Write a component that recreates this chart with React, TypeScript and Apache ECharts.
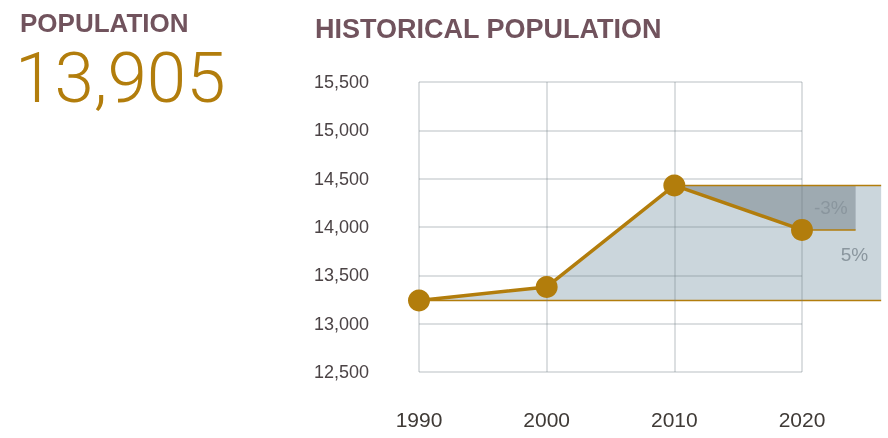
import React, { useEffect, useRef } from "react";
import * as echarts from "echarts";

const YEARS = [1990, 2000, 2010, 2020];
const POPULATION = [13240, 13380, 14430, 13970];
const Y_MIN = 12500;
const Y_MAX = 15500;
const Y_STEP = 500;
const HEADLINE_LABEL = "POPULATION";
const HEADLINE_VALUE = "13,905";
const CHART_TITLE = "HISTORICAL POPULATION";
const CHANGE_LABELS = ["-3%", "5%"];
// extent of the comparison bands beyond the last year (in years)
const BAND_END_YEAR = 2026.2;
const CHANGE_END_YEAR = 2024.2;

const GOLD = "#b27d0c";
const MAUVE = "#71535d";
const LIGHT_BAND = "#cbd6dc";
const DARK_BAND = "#9eaab1";
const BAND_TEXT = "#8a969e";

export default function App() {
  const ref = useRef<HTMLDivElement | null>(null);

  useEffect(() => {
    if (!ref.current) return;
    const chart = echarts.init(ref.current, undefined, { renderer: "svg" });

    const lineData = YEARS.map((y, i) => [y, POPULATION[i]]);

    const renderBands = (params: any, api: any) => {
      const p = YEARS.map((y, i) => api.coord([y, POPULATION[i]]));
      const bandEnd = api.coord([BAND_END_YEAR, POPULATION[0]])[0];
      const changeEnd = api.coord([CHANGE_END_YEAR, POPULATION[0]])[0];
      const [p0, p1, p2, p3] = p;
      const thin = { stroke: GOLD, lineWidth: 1.5 };
      return {
        type: "group",
        children: [
          {
            type: "polygon",
            shape: {
              points: [p0, p1, p2, [bandEnd, p2[1]], [bandEnd, p0[1]]],
            },
            style: { fill: LIGHT_BAND },
          },
          {
            type: "polygon",
            shape: {
              points: [p2, [changeEnd, p2[1]], [changeEnd, p3[1]], p3],
            },
            style: { fill: DARK_BAND },
          },
          {
            type: "line",
            shape: { x1: p0[0], y1: p0[1], x2: bandEnd, y2: p0[1] },
            style: thin,
          },
          {
            type: "line",
            shape: { x1: p2[0], y1: p2[1], x2: bandEnd, y2: p2[1] },
            style: thin,
          },
          {
            type: "line",
            shape: { x1: p3[0], y1: p3[1], x2: changeEnd, y2: p3[1] },
            style: thin,
          },
          {
            type: "text",
            x: (p3[0] + changeEnd) / 2 + 2,
            y: (p2[1] + p3[1]) / 2,
            style: {
              text: CHANGE_LABELS[0],
              fill: BAND_TEXT,
              font: '19px "Liberation Sans", Arial, sans-serif',
              align: "center",
              verticalAlign: "middle",
            },
          },
          {
            type: "text",
            x: bandEnd - 13,
            y: p3[1] + 25,
            style: {
              text: CHANGE_LABELS[1],
              fill: BAND_TEXT,
              font: '19px "Liberation Sans", Arial, sans-serif',
              align: "right",
              verticalAlign: "middle",
            },
          },
        ],
      };
    };

    const splitLine = {
      show: true,
      lineStyle: { color: "rgba(110,120,128,0.24)", width: 2 },
    };

    chart.setOption({
      animation: false,
      grid: { left: 419, right: 86, top: 82, bottom: 66, containLabel: false },
      graphic: [
        {
          type: "text",
          left: 20,
          top: 10,
          style: {
            text: HEADLINE_LABEL,
            fill: MAUVE,
            font: 'bold 26px "Liberation Sans", Arial, sans-serif',
            lineHeight: 26,
          },
        },
        {
          type: "text",
          left: 15,
          top: 42,
          style: {
            text: HEADLINE_VALUE,
            fill: GOLD,
            font: '300 71px Roboto, "Liberation Sans", sans-serif',
            lineHeight: 58,
          },
        },
        {
          type: "text",
          left: 315,
          top: 15,
          style: {
            text: CHART_TITLE,
            fill: MAUVE,
            font: 'bold 27px "Liberation Sans", Arial, sans-serif',
          },
        },
      ],
      xAxis: {
        type: "value",
        min: YEARS[0],
        max: YEARS[YEARS.length - 1],
        interval: 10,
        z: 3,
        axisLine: { show: false },
        axisTick: { show: false },
        splitLine,
        axisLabel: {
          formatter: (v: number) => String(v),
          fontSize: 21,
          color: "#3f3a36",
          fontFamily: '"Liberation Sans", Arial, sans-serif',
          margin: 37,
        },
      },
      yAxis: {
        type: "value",
        min: Y_MIN,
        max: Y_MAX,
        interval: Y_STEP,
        z: 3,
        axisLine: { show: false },
        axisTick: { show: false },
        splitLine,
        axisLabel: {
          formatter: (v: number) => v.toLocaleString("en-US"),
          fontSize: 18,
          color: "#4b4345",
          fontFamily: '"Liberation Sans", Arial, sans-serif',
          margin: 50,
        },
      },
      series: [
        {
          type: "custom",
          z: 1,
          clip: false,
          silent: true,
          renderItem: renderBands,
          data: [[YEARS[0], POPULATION[0]]],
        },
        {
          type: "line",
          z: 5,
          data: lineData,
          symbol: "circle",
          symbolSize: 22,
          lineStyle: { color: GOLD, width: 3.5 },
          itemStyle: { color: GOLD },
        },
      ],
    });

    return () => chart.dispose();
  }, []);

  return (
    <div
      ref={ref}
      style={{ position: "fixed", left: 0, top: 0, width: 888, height: 438 }}
    />
  );
}
